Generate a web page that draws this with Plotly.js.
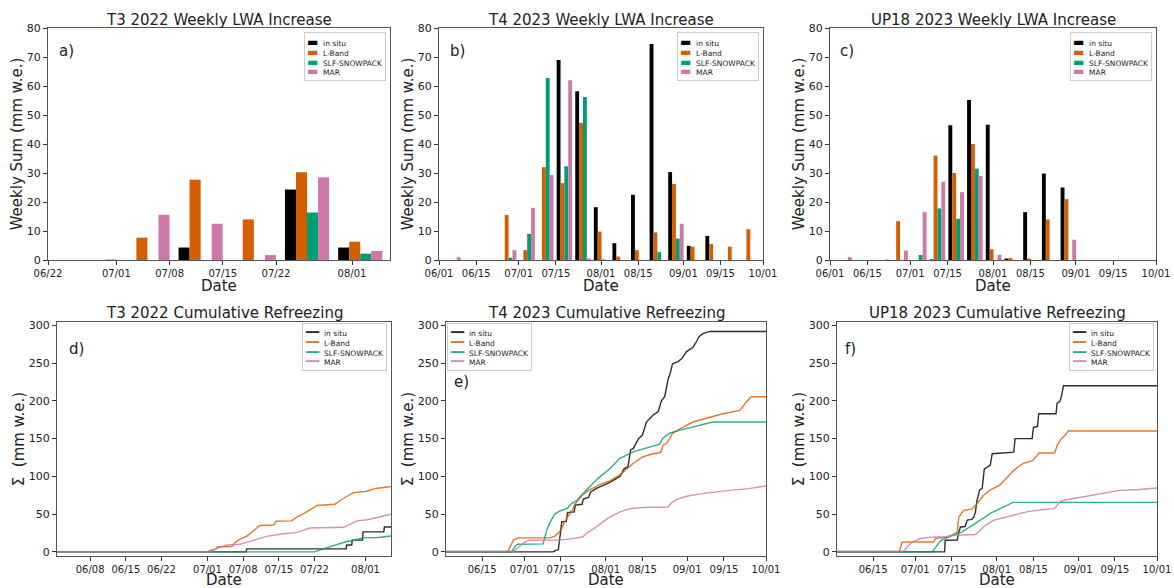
<!DOCTYPE html>
<html><head><meta charset="utf-8">
<script src="https://cdn.plot.ly/plotly-3.0.1.min.js"></script>
<style>html,body{margin:0;padding:0;background:#fff}#chart{width:1174px;height:588px}</style>
</head><body><div id="chart"></div>
<script>
// ---------- series names / colours ----------
const names = ['in situ', 'L-Band', 'SLF-SNOWPACK', 'MAR'];
const colors = ['#000000', '#D55E00', '#009E73', '#CC79A7'];

// ---------- panel titles / labels ----------
const titles = ['T3 2022 Weekly LWA Increase', 'T4 2023 Weekly LWA Increase', 'UP18 2023 Weekly LWA Increase',
                'T3 2022 Cumulative Refreezing', 'T4 2023 Cumulative Refreezing', 'UP18 2023 Cumulative Refreezing'];
const panelLabels = ['a)', 'b)', 'c)', 'd)', 'e)', 'f)'];
const xTitle = 'Date';
const yTitleTop = 'Weekly Sum (mm w.e.)';
const yTitleBot = '\u03A3\u00A0 (mm w.e.)';

// ---------- tick labels ----------
const ticksA = ['2022-06-22', '2022-07-01', '2022-07-08', '2022-07-15', '2022-07-22', '2022-08-01'];
const ticksBC = ['2023-06-01', '2023-06-15', '2023-07-01', '2023-07-15', '2023-08-01', '2023-08-15', '2023-09-01', '2023-09-15', '2023-10-01'];
const ticksD = ['2022-06-08', '2022-06-15', '2022-06-22', '2022-07-01', '2022-07-08', '2022-07-15', '2022-07-22', '2022-08-01'];
const ticksEF = ['2023-06-15', '2023-07-01', '2023-07-15', '2023-08-01', '2023-08-15', '2023-09-01', '2023-09-15', '2023-10-01'];
const topTicks = [0, 10, 20, 30, 40, 50, 60, 70, 80];
const botTicks = [0, 50, 100, 150, 200, 250, 300];

// ---------- weekly bars: panel a (T3 2022) ----------
const weeksA = ['2022-06-28 02:00', '2022-07-05 02:00', '2022-07-12 02:00', '2022-07-19 02:00', '2022-07-26 02:00', '2022-08-02 02:00'];
const a_insitu = [0, 0, 4.3, 0, 24.3, 4.3];
const a_lband  = [0, 7.7, 27.7, 14, 30.3, 6.3];
const a_slf    = [0, 0, 0, 0, 16.4, 2.2];
const a_mar    = [0.2, 15.6, 12.5, 1.7, 28.5, 3.1];

// ---------- weekly bars: panels b, c (2023) ----------
const weeksBC = ['2023-06-06 05:00', '2023-06-13 05:00', '2023-06-20 05:00', '2023-06-27 05:00', '2023-07-04 05:00',
                 '2023-07-11 05:00', '2023-07-18 05:00', '2023-07-25 05:00', '2023-08-01 05:00', '2023-08-08 05:00',
                 '2023-08-15 05:00', '2023-08-22 05:00', '2023-08-29 05:00', '2023-09-05 05:00', '2023-09-12 05:00',
                 '2023-09-19 05:00', '2023-09-26 05:00'];
const b_insitu = [0, 0, 0, 0, 0, 0, 69, 58.2, 18.2, 5.8, 22.5, 74.5, 30.3, 4.9, 8.3, 0, 0];
const b_lband  = [0, 0, 0, 15.5, 3.4, 32, 26.5, 47.3, 9.8, 1.2, 3.4, 9.5, 26.2, 4.6, 5.5, 4.6, 10.6];
const b_slf    = [0, 0, 0, 0.8, 9, 62.8, 32.3, 56.2, 0.2, 0, 0, 2.7, 7.4, 0, 0, 0, 0];
const b_mar    = [1.0, 0, 0, 3.4, 18, 29.3, 62, 0.5, 0, 0, 0, 0, 12.5, 0, 0, 0, 0];

const c_insitu = [0, 0, 0, 0, 0, 0.2, 46.5, 55.2, 46.6, 0.5, 16.5, 29.8, 25, 0, 0, 0, 0];
const c_lband  = [0, 0, 0, 13.4, 0, 36, 30, 40, 3.7, 0.7, 0.5, 14, 21, 0, 0, 0, 0];
const c_slf    = [0, 0, 0, 0, 1.7, 17.8, 14.2, 31.5, 0, 0, 0, 0, 0, 0, 0, 0, 0];
const c_mar    = [1.0, 0, 0.2, 3.2, 16.5, 27, 23.4, 29, 1.8, 0, 0, 0, 7, 0, 0, 0, 0];

// ---------- cumulative refreezing: panel d (T3 2022) ----------
const d_insitu_x = ['2022-06-01 12:00','2022-07-08 14:00','2022-07-08 17:00','2022-07-28 05:00','2022-07-28 07:00','2022-07-29 07:00','2022-07-29 10:00','2022-07-31 10:00','2022-07-31 12:00','2022-08-04 14:00','2022-08-04 17:00','2022-08-06 00:00'];
const d_insitu_y = [0, 0, 4, 4, 9, 9, 15.5, 15.5, 26.5, 26.5, 33, 33];
const d_lband_x = ['2022-06-01 12:00','2022-07-01 00:00','2022-07-01 12:00','2022-07-02 12:00','2022-07-03 00:00','2022-07-05 19:00','2022-07-06 12:00','2022-07-07 12:00','2022-07-08 19:00','2022-07-09 12:00','2022-07-10 12:00','2022-07-11 07:00','2022-07-14 00:00','2022-07-14 12:00','2022-07-17 12:00','2022-07-18 12:00','2022-07-20 00:00','2022-07-21 12:00','2022-07-22 12:00','2022-07-26 00:00','2022-07-27 00:00','2022-07-28 12:00','2022-07-29 14:00','2022-08-01 00:00','2022-08-03 00:00','2022-08-06 00:00'];
const d_lband_y = [0, 0, 2, 3.5, 6.5, 7, 13, 17, 21, 25, 30, 35, 35.5, 40.5, 41, 46, 51, 58, 61.5, 63, 68, 74, 78.5, 80, 84, 86.5];
const d_slf_x = ['2022-06-01 12:00','2022-07-22 00:00','2022-07-24 00:00','2022-07-26 00:00','2022-07-28 00:00','2022-07-30 00:00','2022-07-31 12:00','2022-08-03 12:00','2022-08-06 00:00'];
const d_slf_y = [0, 0, 4.5, 9, 13, 16, 18.5, 19, 21];
const d_mar_x = ['2022-06-01 12:00','2022-07-01 12:00','2022-07-03 00:00','2022-07-04 19:00','2022-07-07 10:00','2022-07-10 00:00','2022-07-12 14:00','2022-07-15 22:00','2022-07-18 12:00','2022-07-21 02:00','2022-07-27 17:00','2022-07-30 07:00','2022-08-01 07:00','2022-08-05 19:00','2022-08-06 00:00'];
const d_mar_y = [0, 0, 5, 9, 10, 15.5, 20.5, 24, 25.5, 31.5, 32.5, 41, 42.5, 49.5, 50];

// ---------- cumulative refreezing: panel e (T4 2023) ----------
const e_insitu_x = ['2023-06-01 00:00','2023-07-12 00:00','2023-07-13 00:00','2023-07-14 00:00','2023-07-14 19:00','2023-07-15 07:00','2023-07-17 00:00','2023-07-17 12:00','2023-07-20 00:00','2023-07-20 12:00','2023-07-23 00:00','2023-07-23 12:00','2023-07-25 12:00','2023-07-26 05:00','2023-07-28 12:00','2023-07-31 00:00','2023-08-02 14:00','2023-08-05 00:00','2023-08-06 12:00','2023-08-08 00:00','2023-08-09 12:00','2023-08-10 12:00','2023-08-11 12:00','2023-08-13 12:00','2023-08-15 00:00','2023-08-16 12:00','2023-08-19 00:00','2023-08-21 00:00','2023-08-22 05:00','2023-08-23 12:00','2023-08-24 17:00','2023-08-25 12:00','2023-08-26 10:00','2023-08-28 12:00','2023-08-30 00:00','2023-08-31 17:00','2023-09-03 05:00','2023-09-04 12:00','2023-09-05 12:00','2023-09-07 00:00','2023-09-09 14:00','2023-10-01 00:00'];
const e_insitu_y = [0, 0, 2, 3, 25, 40, 40, 52, 53, 62, 63, 70, 72, 79, 84, 88, 92, 97, 100, 110, 113, 135, 137, 150, 155, 172, 181, 186, 200, 206, 228, 236, 249, 252, 256, 265, 271, 278, 285, 289, 292, 292];
const e_lband_x = ['2023-06-01 00:00','2023-06-24 19:00','2023-06-25 19:00','2023-06-27 00:00','2023-06-28 17:00','2023-07-10 17:00','2023-07-12 14:00','2023-07-14 00:00','2023-07-15 00:00','2023-07-16 10:00','2023-07-18 07:00','2023-07-19 12:00','2023-07-20 05:00','2023-07-21 12:00','2023-07-23 10:00','2023-07-25 07:00','2023-07-27 19:00','2023-07-30 07:00','2023-08-02 14:00','2023-08-06 10:00','2023-08-11 10:00','2023-08-15 05:00','2023-08-19 00:00','2023-08-21 07:00','2023-08-22 05:00','2023-08-22 19:00','2023-08-24 02:00','2023-08-25 10:00','2023-08-26 10:00','2023-08-29 05:00','2023-09-03 05:00','2023-09-09 14:00','2023-09-14 14:00','2023-09-21 00:00','2023-09-22 07:00','2023-09-23 12:00','2023-09-25 10:00','2023-10-01 00:00'];
const e_lband_y = [0, 0, 8, 16, 18.5, 18.5, 20.5, 26, 28.5, 40, 50, 57, 63, 68, 76, 81, 86, 90, 94, 102, 117, 126, 130, 131, 133, 141, 143.5, 150, 157, 163, 172, 178.5, 183, 187.5, 194, 198.5, 205.5, 205.5];
const e_slf_x = ['2023-06-01 00:00','2023-06-26 05:00','2023-06-27 12:00','2023-06-28 12:00','2023-07-08 05:00','2023-07-09 12:00','2023-07-10 17:00','2023-07-12 14:00','2023-07-14 12:00','2023-07-17 12:00','2023-07-19 00:00','2023-07-21 00:00','2023-07-23 00:00','2023-07-26 00:00','2023-07-29 00:00','2023-08-02 14:00','2023-08-06 10:00','2023-08-11 10:00','2023-08-21 12:00','2023-08-22 19:00','2023-08-25 12:00','2023-08-29 00:00','2023-09-03 00:00','2023-09-10 19:00','2023-10-01 00:00'];
const e_slf_y = [0, 0, 7, 10, 10.5, 28, 38, 50, 54, 58, 64, 68, 76, 86, 97, 110, 124, 132.5, 142.5, 151, 157.5, 161, 165.5, 172, 172];
const e_mar_x = ['2023-06-01 00:00','2023-06-27 00:00','2023-06-28 12:00','2023-06-30 00:00','2023-07-01 05:00','2023-07-03 00:00','2023-07-14 12:00','2023-07-19 12:00','2023-07-23 10:00','2023-07-24 14:00','2023-07-28 12:00','2023-07-31 00:00','2023-08-02 14:00','2023-08-06 10:00','2023-08-10 05:00','2023-08-15 05:00','2023-08-24 17:00','2023-08-26 00:00','2023-08-27 22:00','2023-08-31 17:00','2023-09-06 19:00','2023-09-16 22:00','2023-09-24 12:00','2023-10-01 00:00'];
const e_mar_y = [1, 1, 5, 10, 13, 15.4, 15.5, 17.5, 20, 24.3, 33, 40, 46, 53, 57.3, 58.7, 59.5, 64.8, 69.2, 73.6, 77.1, 81.5, 83.8, 87.3];

// ---------- cumulative refreezing: panel f (UP18 2023) ----------
const f_insitu_x = ['2023-06-01 00:00','2023-07-12 05:00','2023-07-12 10:00','2023-07-17 00:00','2023-07-17 12:00','2023-07-18 05:00','2023-07-20 00:00','2023-07-20 19:00','2023-07-22 12:00','2023-07-23 07:00','2023-07-23 22:00','2023-07-24 12:00','2023-07-25 12:00','2023-07-26 12:00','2023-07-27 07:00','2023-07-28 12:00','2023-07-29 14:00','2023-07-30 07:00','2023-08-07 12:00','2023-08-08 00:00','2023-08-14 12:00','2023-08-15 00:00','2023-08-16 12:00','2023-08-17 00:00','2023-08-23 14:00','2023-08-24 00:00','2023-08-25 00:00','2023-08-25 14:00','2023-08-26 10:00','2023-10-01 00:00'];
const f_insitu_y = [0, 0, 15.4, 15.5, 25, 33, 33.5, 42, 43, 46, 53, 68, 82, 84, 110, 113, 115, 130, 132, 150, 150, 165, 166, 183, 183, 197, 199, 205, 220, 220];
const f_lband_x = ['2023-06-01 00:00','2023-06-24 22:00','2023-06-26 00:00','2023-07-08 00:00','2023-07-08 19:00','2023-07-13 19:00','2023-07-15 12:00','2023-07-17 00:00','2023-07-17 14:00','2023-07-19 12:00','2023-07-22 17:00','2023-07-24 14:00','2023-07-27 00:00','2023-07-29 14:00','2023-08-02 02:00','2023-08-05 07:00','2023-08-07 12:00','2023-08-11 00:00','2023-08-14 19:00','2023-08-17 02:00','2023-08-23 02:00','2023-08-24 00:00','2023-08-25 14:00','2023-08-26 22:00','2023-08-28 05:00','2023-10-01 00:00'];
const f_lband_y = [0, 0, 13, 13, 18, 19.5, 23, 26.5, 46, 55, 57, 64, 75, 82, 88, 100, 108, 117, 121, 131, 131, 141, 150, 154, 160, 160];
const f_slf_x = ['2023-06-01 00:00','2023-07-07 12:00','2023-07-10 17:00','2023-07-14 12:00','2023-07-18 22:00','2023-07-22 00:00','2023-07-25 19:00','2023-07-29 14:00','2023-08-02 19:00','2023-08-07 05:00','2023-10-01 00:00'];
const f_slf_y = [0, 0, 15, 21.5, 26.5, 33, 42, 51, 58, 65.5, 65.5];
const f_mar_x = ['2023-06-01 00:00','2023-06-26 19:00','2023-06-28 00:00','2023-06-29 22:00','2023-07-03 02:00','2023-07-07 00:00','2023-07-12 14:00','2023-07-16 00:00','2023-07-23 22:00','2023-07-25 00:00','2023-07-27 00:00','2023-07-28 12:00','2023-07-31 00:00','2023-08-03 10:00','2023-08-07 05:00','2023-08-12 07:00','2023-08-18 14:00','2023-08-23 00:00','2023-08-25 00:00','2023-08-26 05:00','2023-09-01 12:00','2023-09-09 02:00','2023-09-16 17:00','2023-09-24 07:00','2023-10-01 00:00'];
const f_mar_y = [1, 1, 7, 13, 17.7, 19.5, 20, 22, 23, 26, 33, 37, 42, 45, 47.5, 53, 56, 57.3, 66, 68, 72, 77, 81.5, 82.5, 84.5];

// ---------- traces ----------
const traces = [];
function addBars(weeks, series, ax) {
  series.forEach((vals, i) => traces.push({
    type: 'bar', x: weeks, y: vals, name: names[i], xaxis: 'x' + ax, yaxis: 'y' + ax,
    marker: {color: colors[i], line: {width: 0}}, showlegend: false
  }));
}
function addLines(xs, ys, ax) {
  xs.forEach((x, i) => traces.push({
    type: 'scatter', mode: 'lines', x: x, y: ys[i], name: names[i], xaxis: 'x' + ax, yaxis: 'y' + ax,
    line: {color: colors[i], width: 1.4}, opacity: 0.82, showlegend: false
  }));
}
addBars(weeksA, [a_insitu, a_lband, a_slf, a_mar], '');
addBars(weeksBC, [b_insitu, b_lband, b_slf, b_mar], '2');
addBars(weeksBC, [c_insitu, c_lband, c_slf, c_mar], '3');
addLines([d_insitu_x, d_lband_x, d_slf_x, d_mar_x], [d_insitu_y, d_lband_y, d_slf_y, d_mar_y], '4');
addLines([e_insitu_x, e_lband_x, e_slf_x, e_mar_x], [e_insitu_y, e_lband_y, e_slf_y, e_mar_y], '5');
addLines([f_insitu_x, f_lband_x, f_slf_x, f_mar_x], [f_insitu_y, f_lband_y, f_slf_y, f_mar_y], '6');

// ---------- layout ----------
const W = 1174, H = 588;
const FONT = 'DejaVu Sans, Liberation Sans, sans-serif';
function xd(l, r) { return [l / W, r / W]; }
function yd(t, b) { return [1 - b / H, 1 - t / H]; }

function xax(dom, range, ticks, anchor) {
  return {domain: dom, range: range, type: 'date', tickvals: ticks, tickformat: '%m/%d', tickangle: 0,
    showline: true, mirror: true, linecolor: '#555', linewidth: 1, ticks: 'outside', ticklen: 3.5, tickcolor: '#333',
    showgrid: false, zeroline: false, automargin: false, anchor: anchor,
    tickfont: {family: FONT, size: 10, color: '#222'}};
}
function yax(dom, range, tickv, ttl, anchor) {
  return {domain: dom, range: range, tickvals: tickv, showline: true, mirror: true, linecolor: '#555', linewidth: 1,
    ticks: 'outside', ticklen: 4, tickcolor: '#333', showgrid: false, zeroline: false, automargin: false, anchor: anchor,
    tickfont: {family: FONT, size: 11, color: '#222'},
    title: {text: ttl, font: {family: FONT, size: 15, color: '#222'}, standoff: 0}};
}
const yTop = yd(28, 260), yBot = yd(322, 556);

const layout = {
  width: W, height: H, margin: {l: 0, r: 0, t: 0, b: 0}, paper_bgcolor: '#fff', plot_bgcolor: '#fff',
  showlegend: false, barmode: 'group', bargap: 0.17, bargroupgap: 0,
  font: {family: FONT, color: '#222'},
  xaxis:  xax(xd(48, 390),  ['2022-06-22', '2022-08-06'], ticksA, 'y'),
  yaxis:  yax(yTop, [0, 80], topTicks, yTitleTop, 'x'),
  xaxis2: xax(xd(439, 763), ['2023-06-01', '2023-10-01'], ticksBC, 'y2'),
  yaxis2: yax(yTop, [0, 80], topTicks, yTitleTop, 'x2'),
  xaxis3: xax(xd(830, 1156), ['2023-06-01', '2023-10-01'], ticksBC, 'y3'),
  yaxis3: yax(yTop, [0, 80], topTicks, yTitleTop, 'x3'),
  xaxis4: xax(xd(57, 391), ['2022-06-01 12:00', '2022-08-06'], ticksD, 'y4'),
  yaxis4: yax(yBot, [-5.5, 304.5], botTicks, yTitleBot, 'x4'),
  xaxis5: xax(xd(446, 766), ['2023-06-01 06:00', '2023-10-01'], ticksEF, 'y5'),
  yaxis5: yax(yBot, [-5.5, 304.5], botTicks, yTitleBot, 'x5'),
  xaxis6: xax(xd(837, 1157), ['2023-06-01 06:00', '2023-10-01'], ticksEF, 'y6'),
  yaxis6: yax(yBot, [-5.5, 304.5], botTicks, yTitleBot, 'x6'),
  annotations: []
};

const axSuffix = ['', '2', '3', '4', '5', '6'];
// subplot titles
titles.forEach((t, i) => layout.annotations.push({
  xref: 'x' + axSuffix[i] + ' domain', yref: 'y' + axSuffix[i] + ' domain', x: 0.5, y: 1, yanchor: 'bottom',
  yshift: i < 3 ? -3 : -2, text: t, showarrow: false, font: {family: FONT, size: 15, color: '#222'}
}));
// x-axis titles ("Date") below each panel
axSuffix.forEach((s, i) => layout.annotations.push(i < 3 ? {
  xref: 'x' + s + ' domain', yref: 'paper', x: 0.5, y: 1 - 286 / H, yanchor: 'middle', borderpad: 0,
  text: xTitle, showarrow: false, font: {family: FONT, size: 15, color: '#222'}
} : {
  xref: 'x' + s + ' domain', yref: 'paper', x: 0.5, y: 0, yanchor: 'bottom', yshift: -2, borderpad: 0,
  text: xTitle, showarrow: false, font: {family: FONT, size: 15, color: '#222'}
}));
// panel labels
const labelPos = [[0.026, 0.90], [0.028, 0.90], [0.025, 0.90], [0.03, 0.886], [0.02, 0.742], [0.018, 0.886]];
panelLabels.forEach((t, i) => layout.annotations.push({
  xref: 'x' + axSuffix[i] + ' domain', yref: 'y' + axSuffix[i] + ' domain', x: labelPos[i][0], y: labelPos[i][1],
  xanchor: 'left', yanchor: 'middle', text: t, showarrow: false, font: {family: FONT, size: 15, color: '#222'}
}));
// legends (one boxed legend per panel)
function legendText(isBar) {
  return names.map((n, i) => isBar
    ? '<span style="color:' + colors[i] + ';font-size:12px">\u25AC</span>\u00A0\u00A0' + n
    : '<span style="color:' + colors[i] + ';font-size:11px;opacity:0.85">\u2501\u2501</span>\u00A0\u00A0' + n).join('<br>');
}
const legPos = [[0.988, 0.983, 'right'], [0.988, 0.983, 'right'], [0.988, 0.983, 'right'],
                [0.988, 0.996, 'right'], [0.004, 0.994, 'left'], [0.99, 0.994, 'right']];
legPos.forEach((p, i) => layout.annotations.push({
  xref: 'x' + axSuffix[i] + ' domain', yref: 'y' + axSuffix[i] + ' domain', x: p[0], y: p[1],
  xanchor: p[2], yanchor: 'top', align: 'left', showarrow: false, text: legendText(i < 3),
  font: {family: FONT, size: 7.5, color: '#222'}, bordercolor: '#cccccc', borderwidth: 1, borderpad: 2,
  bgcolor: 'rgba(255,255,255,0.85)'
}));

Plotly.newPlot('chart', traces, layout, {staticPlot: true, displayModeBar: false});
</script>
</body></html>
